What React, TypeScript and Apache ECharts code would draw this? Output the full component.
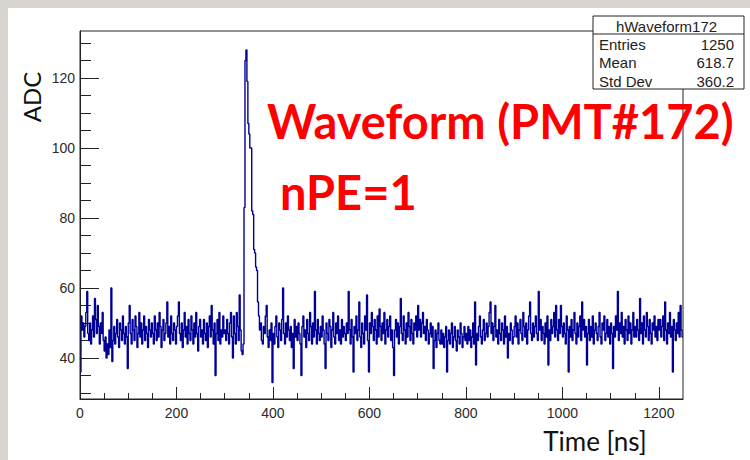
import React, { useEffect, useRef } from "react";
import * as echarts from "echarts";

const BIN_NS = 2;
const T_MAX = 1250;
const Y_MIN = 28.3;
const Y_MAX = 133.4;

// ADC value per 2 ns bin, one row = 50 ns
const ADC = [
  36, 52, 48, 50, 46, 49, 53, 59, 47, 45, 50, 44, 48, 52, 46, 57, 51, 47, 55, 49, 44, 50, 47, 53, 45,
  42, 46, 40, 44, 41, 48, 43, 60, 39, 45, 49, 44, 47, 51, 46, 43, 50, 48, 45, 52, 47, 44, 49, 46, 37,
  50, 55, 47, 44, 51, 48, 45, 52, 49, 43, 47, 53, 46, 50, 44, 48, 52, 45, 49, 47, 43, 51, 48, 46, 50,
  47, 44, 52, 48, 45, 50, 46, 53, 49, 43, 48, 51, 45, 47, 50, 56, 46, 49, 44, 52, 47, 45, 50, 48, 44,
  49, 52, 56, 47, 45, 50, 43, 48, 53, 46, 49, 44, 51, 47, 45, 52, 48, 44, 50, 46, 53, 47, 42, 49, 51,
  46, 48, 44, 51, 47, 45, 50, 43, 49, 52, 46, 55, 48, 44, 50, 35, 47, 51, 45, 53, 44, 48, 46, 52, 47,
  48, 45, 51, 47, 44, 50, 53, 46, 40, 52, 47, 44, 53, 49, 45, 58, 48, 42, 41, 44, 83, 125, 128, 119, 107,
  104, 100, 100, 82, 81, 71, 70, 66, 65, 56, 52, 48, 50, 45, 44, 49, 47, 52, 55, 46, 43, 48, 45, 50, 33,
  47, 44, 49, 52, 46, 43, 50, 48, 45, 51, 60, 47, 44, 50, 46, 52, 48, 45, 49, 43, 47, 37, 51, 46, 49,
  45, 50, 47, 44, 35, 49, 52, 46, 48, 43, 51, 47, 45, 53, 49, 44, 50, 46, 59, 48, 44, 51, 47, 45, 49,
  46, 52, 48, 44, 37, 50, 47, 45, 51, 49, 43, 48, 53, 46, 44, 50, 47, 52, 45, 48, 44, 51, 46, 49, 47,
  45, 50, 47, 59, 48, 44, 51, 46, 36, 49, 47, 52, 45, 48, 56, 46, 43, 50, 47, 44, 52, 48, 58, 45, 36,
  50, 47, 53, 49, 45, 51, 48, 44, 52, 46, 54, 49, 45, 50, 47, 53, 44, 48, 51, 46, 49, 52, 45, 48, 43,
  35, 48, 51, 46, 50, 44, 49, 57, 47, 45, 52, 48, 44, 50, 46, 53, 49, 45, 51, 47, 44, 50, 48, 52, 46,
  55, 48, 51, 46, 50, 53, 47, 49, 45, 51, 48, 44, 47, 50, 46, 49, 37, 45, 48, 43, 47, 50, 45, 44, 48,
  44, 47, 43, 46, 49, 36, 45, 48, 44, 47, 50, 43, 46, 49, 45, 42, 48, 46, 44, 50, 47, 43, 46, 49, 45,
  47, 44, 49, 45, 48, 43, 46, 50, 44, 56, 38, 47, 45, 49, 52, 46, 44, 48, 51, 45, 47, 50, 46, 49, 53,
  56, 47, 50, 45, 49, 55, 46, 48, 44, 51, 47, 45, 50, 48, 44, 52, 46, 49, 40, 47, 45, 50, 48, 44, 46,
  49, 52, 46, 50, 44, 48, 51, 47, 45, 53, 49, 46, 50, 44, 48, 52, 56, 47, 45, 50, 46, 49, 52, 47, 45,
  59, 48, 51, 45, 49, 47, 44, 50, 46, 52, 38, 48, 45, 51, 47, 49, 53, 46, 55, 48, 45, 51, 47, 55, 49,
  46, 50, 47, 44, 52, 48, 36, 49, 46, 51, 45, 48, 53, 47, 44, 50, 46, 49, 52, 45, 56, 48, 51, 46, 49,
  38, 47, 51, 45, 49, 46, 52, 44, 48, 50, 47, 45, 49, 53, 46, 44, 50, 48, 52, 45, 47, 51, 46, 49, 44,
  50, 47, 37, 49, 46, 52, 48, 59, 45, 50, 47, 53, 46, 49, 44, 51, 48, 45, 52, 47, 50, 44, 48, 53, 46,
  49, 46, 51, 48, 45, 57, 47, 50, 44, 52, 48, 46, 53, 49, 45, 51, 47, 44, 50, 48, 52, 46, 49, 45, 51,
  48, 51, 46, 49, 52, 45, 56, 48, 44, 50, 47, 53, 46, 49, 36, 51, 48, 45, 50, 47, 53, 46, 55, 48, 46,
];

const X_MAJOR = [0, 200, 400, 600, 800, 1000, 1200];
const X_MINOR = [
  0, 50, 100, 150, 200, 250, 300, 350, 400, 450, 500, 550, 600, 650, 700, 750,
  800, 850, 900, 950, 1000, 1050, 1100, 1150, 1200,
];
const Y_MAJOR = [40, 60, 80, 100, 120];
const Y_MINOR = [
  30, 35, 40, 45, 50, 55, 60, 65, 70, 75, 80, 85, 90, 95, 100, 105, 110, 115,
  120, 125, 130,
];

const HIST_NAME = "hWaveform172";
const STATS = [
  ["Entries", "1250"],
  ["Mean", "618.7"],
  ["Std Dev", "360.2"],
];
const TITLE = "Waveform (PMT#172)";
const SUBTITLE = "nPE=1";
const X_TITLE = "Time [ns]";
const Y_TITLE = "ADC";

const GRID = { left: 80, top: 31, right: 67, bottom: 61 };
const STAT_FONT = "15px Liberation Sans, Arial, sans-serif";

export default function App() {
  const ref = useRef<HTMLDivElement>(null);

  useEffect(() => {
    if (!ref.current) return;
    const chart = echarts.init(ref.current, undefined, { renderer: "svg" });

    const pts: [number, number][] = ADC.map((v, i) => [i * BIN_NS, v]);
    pts.push([T_MAX, ADC[ADC.length - 1]]);

    const tickFont = {
      fontFamily: "Liberation Sans, Arial, sans-serif",
      fontSize: 14,
      color: "#2a2a2a",
    };

    const boxX = 593;
    const boxY = 16;
    const boxW = 151;
    const boxH = 73;
    const rowY = [44, 62.5, 81];

    const statTexts: any[] = [];
    STATS.forEach((row, i) => {
      statTexts.push({
        type: "text",
        z: 101,
        style: {
          text: row[0],
          x: boxX + 6,
          y: rowY[i],
          fill: "#222",
          font: STAT_FONT,
          align: "left",
          verticalAlign: "middle",
        },
      });
      statTexts.push({
        type: "text",
        z: 101,
        style: {
          text: row[1],
          x: boxX + boxW - 10,
          y: rowY[i],
          fill: "#222",
          font: STAT_FONT,
          align: "right",
          verticalAlign: "middle",
        },
      });
    });

    chart.setOption({
      animation: false,
      backgroundColor: "#d8d5d0",
      grid: {
        ...GRID,
        show: true,
        borderColor: "#222",
        borderWidth: 1,
        backgroundColor: "transparent",
        z: 3,
      },
      xAxis: [
        {
          type: "value",
          min: 0,
          max: T_MAX,
          axisLine: { show: true, lineStyle: { color: "#222", width: 1 } },
          axisTick: {
            show: true,
            inside: true,
            length: 12,
            customValues: X_MAJOR,
            lineStyle: { color: "#222" },
          },
          axisLabel: {
            ...tickFont,
            margin: 7,
            customValues: X_MAJOR,
            formatter: (v: number) => String(v),
          },
          splitLine: { show: false },
        },
        {
          type: "value",
          min: 0,
          max: T_MAX,
          position: "bottom",
          axisLine: { show: false },
          axisTick: {
            show: true,
            inside: true,
            length: 6,
            customValues: X_MINOR,
            lineStyle: { color: "#222" },
          },
          axisLabel: { show: false },
          splitLine: { show: false },
        },
      ],
      yAxis: [
        {
          type: "value",
          min: Y_MIN,
          max: Y_MAX,
          axisLine: { show: true, lineStyle: { color: "#222", width: 1 } },
          axisTick: {
            show: true,
            inside: true,
            length: 19,
            customValues: Y_MAJOR,
            lineStyle: { color: "#222" },
          },
          axisLabel: {
            ...tickFont,
            margin: 5,
            customValues: Y_MAJOR,
            formatter: (v: number) => String(v),
          },
          splitLine: { show: false },
        },
        {
          type: "value",
          min: Y_MIN,
          max: Y_MAX,
          position: "left",
          axisLine: { show: false },
          axisTick: {
            show: true,
            inside: true,
            length: 11,
            customValues: Y_MINOR,
            lineStyle: { color: "#222" },
          },
          axisLabel: { show: false },
          splitLine: { show: false },
        },
      ],
      series: [
        {
          type: "line",
          xAxisIndex: 0,
          yAxisIndex: 0,
          step: "end",
          data: pts,
          showSymbol: false,
          symbol: "none",
          lineStyle: { color: "#000096", width: 1.4 },
          z: 2,
        },
      ],
      graphic: [
        {
          type: "rect",
          z: -10,
          silent: true,
          shape: { x: 8, y: 8, width: 742, height: 452 },
          style: { fill: "#ffffff" },
        },
        {
          type: "rect",
          z: 100,
          shape: { x: boxX, y: boxY, width: boxW, height: boxH },
          style: { fill: "#ffffff", stroke: "#222", lineWidth: 1 },
        },
        {
          type: "line",
          z: 101,
          shape: { x1: boxX, y1: 34, x2: boxX + boxW, y2: 34 },
          style: { stroke: "#222", lineWidth: 1 },
        },
        {
          type: "text",
          z: 101,
          style: {
            text: HIST_NAME,
            x: boxX + boxW / 2 - 2,
            y: 26,
            fill: "#222",
            font: STAT_FONT,
            align: "center",
            verticalAlign: "middle",
          },
        },
        ...statTexts,
        {
          type: "text",
          z: 90,
          style: {
            text: TITLE,
            x: 267,
            y: 121,
            fill: "#ff0000",
            font: "bold 47px Lato, Open Sans, sans-serif",
            align: "left",
            verticalAlign: "middle",
          },
        },
        {
          type: "text",
          z: 90,
          style: {
            text: SUBTITLE,
            x: 280,
            y: 192,
            fill: "#ff0000",
            font: "bold 47px Lato, Open Sans, sans-serif",
            align: "left",
            verticalAlign: "middle",
          },
        },
        {
          type: "text",
          z: 90,
          style: {
            text: X_TITLE,
            x: 595,
            y: 441,
            fill: "#111",
            font: "26px Lato, Open Sans, sans-serif",
            align: "center",
            verticalAlign: "middle",
          },
        },
        {
          type: "text",
          z: 90,
          x: 31,
          y: 97,
          rotation: Math.PI / 2,
          style: {
            text: Y_TITLE,
            x: 0,
            y: 0,
            fill: "#111",
            font: "24px Lato, Open Sans, sans-serif",
            align: "center",
            verticalAlign: "middle",
          },
        },
      ],
    });

    return () => chart.dispose();
  }, []);

  return (
    <div
      ref={ref}
      style={{ position: "fixed", left: 0, top: 0, width: 750, height: 460 }}
    />
  );
}
